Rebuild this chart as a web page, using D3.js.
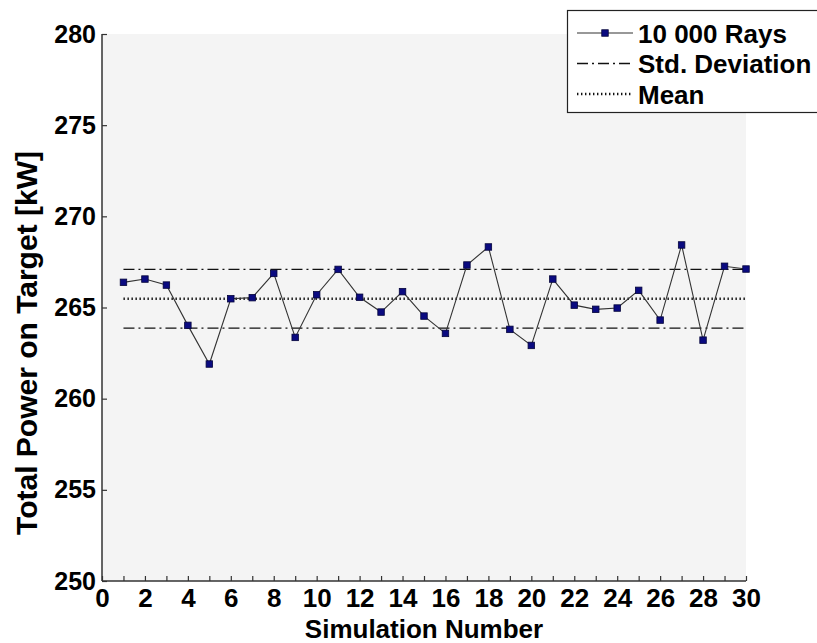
<!DOCTYPE html>
<html>
<head>
<meta charset="utf-8">
<script src="https://cdn.jsdelivr.net/npm/d3@7"></script>
<style>
  html, body { margin: 0; padding: 0; background: #ffffff; }
  svg text { font-family: Arial, "Liberation Sans", sans-serif; font-weight: bold; fill: #000; }
</style>
</head>
<body>
<svg id="chart" width="817" height="643"></svg>
<script>
// Total power on target for 30 runs of 10 000 rays each
const simulations = d3.range(1, 31);
const powerKW = [
  266.38, 266.56, 266.23, 264.02, 261.90, 265.48, 265.54, 266.87, 263.36, 265.70,
  267.09, 265.56, 264.75, 265.87, 264.53, 263.58, 267.33, 268.32, 263.80, 262.92,
  266.56, 265.13, 264.90, 264.97, 265.94, 264.31, 268.43, 263.21, 267.26, 267.11
];
const meanKW = 265.48;
const stdKW = 1.61;
const xTicks = d3.range(0, 31);
const yTicks = d3.range(250, 281, 5);
const legendLabels = ["10 000 Rays", "Std. Deviation", "Mean"];

const svg = d3.select("#chart");
const plotL = 102, plotR = 746, plotT = 34, plotB = 581;

const x = d3.scaleLinear().domain([0, 30]).range([plotL, plotR]);
const y = d3.scaleLinear().domain([250, 280]).range([plotB, plotT]);

// plot background
svg.append("rect")
  .attr("x", plotL).attr("y", plotT)
  .attr("width", plotR - plotL).attr("height", plotB - plotT)
  .attr("fill", "#f4f4f4");

// axes with inward ticks
const xAxis = svg.append("g")
  .attr("transform", `translate(0,${plotB})`)
  .call(d3.axisBottom(x).tickValues(xTicks).tickSize(-5).tickPadding(8)
    .tickFormat(d => d % 2 === 0 ? d : ""));
const yAxis = svg.append("g")
  .attr("transform", `translate(${plotL},0)`)
  .call(d3.axisLeft(y).tickValues(yTicks).tickSize(-5).tickPadding(6));

[xAxis, yAxis].forEach(g => {
  g.select(".domain").attr("stroke", "#333").attr("stroke-width", 1.5);
  g.selectAll(".tick line").attr("stroke", "#333").attr("stroke-width", 1.2);
  g.selectAll(".tick text").style("font-weight", "bold").attr("fill", "#000");
});
xAxis.selectAll(".tick text").style("font-size", "26px");
yAxis.selectAll(".tick text").style("font-size", "25px");
yAxis.select(".domain").attr("d", `M0,${plotB}V${plotT}`);
xAxis.select(".domain").attr("d", `M${plotL},0H${plotR}`);

// reference lines: mean and ± one standard deviation
const refLines = [
  { v: meanKW + stdKW, dash: "11,4,2,4", w: 1.4 },
  { v: meanKW - stdKW, dash: "11,4,2,4", w: 1.4 },
  { v: meanKW, dash: "1.4,2.6", w: 2.4 }
];
svg.append("g").selectAll("line").data(refLines).join("line")
  .attr("x1", x(1)).attr("x2", x(30))
  .attr("y1", d => y(d.v)).attr("y2", d => y(d.v))
  .attr("stroke", "#111").attr("stroke-width", d => d.w)
  .attr("stroke-dasharray", d => d.dash);

// data series
const pts = simulations.map((s, i) => [s, powerKW[i]]);
svg.append("path")
  .datum(pts)
  .attr("fill", "none").attr("stroke", "#333").attr("stroke-width", 1.1)
  .attr("d", d3.line().x(d => x(d[0])).y(d => y(d[1])));

const ms = 6.5;
svg.append("g").selectAll("rect").data(pts).join("rect")
  .attr("x", d => x(d[0]) - ms / 2).attr("y", d => y(d[1]) - ms / 2)
  .attr("width", ms).attr("height", ms)
  .attr("fill", "#0a0a80").attr("stroke", "#05053a").attr("stroke-width", 0.8);

// axis titles
svg.append("text")
  .attr("x", (plotL + plotR) / 2).attr("y", 638)
  .attr("text-anchor", "middle").style("font-size", "26px")
  .text("Simulation Number");
svg.append("text")
  .attr("transform", "translate(37,343) rotate(-90)")
  .attr("text-anchor", "middle").style("font-size", "30px")
  .text("Total Power on Target [kW]");

// legend
const lg = svg.append("g");
lg.append("rect")
  .attr("x", 567.5).attr("y", 10.5).attr("width", 300).attr("height", 102)
  .attr("fill", "#ffffff").attr("stroke", "#222").attr("stroke-width", 1.2);
const rowY = [33, 63.5, 94];
const lx1 = 577, lx2 = 633, tx = 638;
lg.append("line").attr("x1", lx1).attr("x2", lx2).attr("y1", rowY[0]).attr("y2", rowY[0])
  .attr("stroke", "#333").attr("stroke-width", 1.1);
lg.append("rect").attr("x", (lx1 + lx2) / 2 - ms / 2).attr("y", rowY[0] - ms / 2)
  .attr("width", ms).attr("height", ms)
  .attr("fill", "#0a0a80").attr("stroke", "#05053a").attr("stroke-width", 0.8);
lg.append("line").attr("x1", lx1).attr("x2", lx2).attr("y1", rowY[1]).attr("y2", rowY[1])
  .attr("stroke", "#111").attr("stroke-width", 1.4).attr("stroke-dasharray", "11,4,2,4");
lg.append("line").attr("x1", lx1).attr("x2", lx2).attr("y1", rowY[2]).attr("y2", rowY[2])
  .attr("stroke", "#111").attr("stroke-width", 2.4).attr("stroke-dasharray", "1.4,2.6");
lg.selectAll("text.lbl").data(legendLabels).join("text")
  .attr("class", "lbl")
  .attr("x", tx).attr("y", (d, i) => rowY[i] + 9.5)
  .style("font-size", "26px")
  .text(d => d);
</script>
</body>
</html>
